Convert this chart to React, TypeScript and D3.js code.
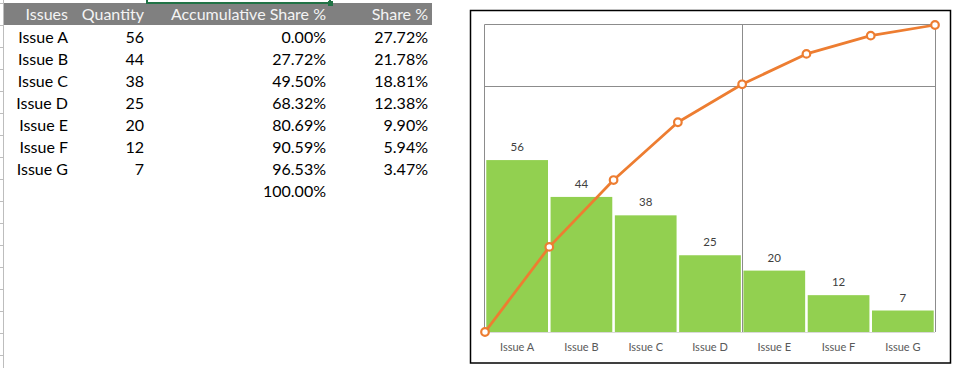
import React, { useEffect, useRef } from "react";
import * as d3 from "d3";

// table + chart data
const issues = ["Issue A", "Issue B", "Issue C", "Issue D", "Issue E", "Issue F", "Issue G"];
const quantities = [56, 44, 38, 25, 20, 12, 7];
const accumShare = [0, 0.2772, 0.495, 0.6832, 0.8069, 0.9059, 0.9653, 1.0];
const share = [0.2772, 0.2178, 0.1881, 0.1238, 0.099, 0.0594, 0.0347];
const headers = ["Issues", "Quantity", "Accumulative Share %", "Share %"];
const paretoCut = 0.8;
const cutIndex = 4;

const W = 963;
const H = 368;
const font = "Lato, 'Open Sans', sans-serif";

export default function App() {
  const ref = useRef<SVGSVGElement | null>(null);

  useEffect(() => {
    const svg = d3.select(ref.current);
    svg.selectAll("*").remove();
    svg.append("rect").attr("width", W).attr("height", H).attr("fill", "#fff");

    drawTable(svg);
    drawChart(svg);
  }, []);

  function drawTable(svg: any) {
    const pct = d3.format(".2%");
    const rows = d3
      .scaleBand<string>()
      .domain(["head", ...issues, "total"])
      .range([3, 3 + 22 * 9]);
    const colRight = [68, 144, 326, 428];

    // row header strip on the far left
    const strip = svg.append("g");
    strip
      .append("line")
      .attr("x1", 3.5)
      .attr("x2", 3.5)
      .attr("y1", 0)
      .attr("y2", H)
      .attr("stroke", "#bdbdbd");
    d3.range(0, 17).forEach((i) => {
      strip
        .append("line")
        .attr("x1", 0)
        .attr("x2", 3)
        .attr("y1", 3.5 + i * 22)
        .attr("y2", 3.5 + i * 22)
        .attr("stroke", "#bdbdbd");
    });

    // header band
    svg
      .append("rect")
      .attr("x", 4)
      .attr("y", rows("head"))
      .attr("width", 428)
      .attr("height", rows.bandwidth())
      .attr("fill", "#808080");

    // selected cell border
    const g = svg.append("g").attr("stroke", "#217346").attr("stroke-width", 2).attr("fill", "none");
    g.append("path").attr("d", "M147,0 V3 H330 V0");
    svg.append("rect").attr("x", 328).attr("y", 1).attr("width", 5).attr("height", 5).attr("fill", "#217346");

    headers.forEach((h, i) => {
      svg
        .append("text")
        .attr("x", colRight[i])
        .attr("y", (rows("head") as number) + 17)
        .attr("text-anchor", "end")
        .attr("fill", "#f4f4f4")
        .style("font-family", font)
        .style("font-size", "16px")
        .text(h);
    });

    issues.forEach((d, i) => {
      const y = (rows(d) as number) + 17.5;
      const cells = [d, String(quantities[i]), pct(accumShare[i]), pct(share[i])];
      cells.forEach((c, j) => {
        svg
          .append("text")
          .attr("x", colRight[j])
          .attr("y", y)
          .attr("text-anchor", "end")
          .attr("fill", "#000")
          .style("font-family", font)
          .style("font-size", "16px")
          .text(c);
      });
    });

    svg
      .append("text")
      .attr("x", colRight[2])
      .attr("y", (rows("total") as number) + 17.5)
      .attr("text-anchor", "end")
      .attr("fill", "#000")
      .style("font-family", font)
      .style("font-size", "16px")
      .text(pct(accumShare[accumShare.length - 1]));
  }

  function drawChart(svg: any) {
    const left = 485,
      right = 935,
      top = 25,
      bottom = 332;

    // chart frame
    svg
      .append("rect")
      .attr("x", 470.5)
      .attr("y", 10.5)
      .attr("width", 480)
      .attr("height", 352.5)
      .attr("fill", "#fff")
      .attr("stroke", "#000")
      .attr("stroke-width", 1.5);

    const x = d3.scaleBand<string>().domain(issues).range([left, right]).paddingInner(0.04).paddingOuter(0.02);
    const y = d3.scaleLinear().domain([0, 100]).range([bottom, top]);
    const x2 = d3
      .scalePoint<number>()
      .domain(d3.range(accumShare.length))
      .range([left, right]);
    const y2 = d3.scaleLinear().domain([0, 1]).range([bottom, top]);

    const grid = svg.append("g").attr("stroke", "#8c8c8c").attr("stroke-width", 1).attr("fill", "none");
    grid.append("path").attr("d", `M${left - 0.5},${bottom} V${top - 0.5} H${right + 0.5} V${bottom}`);
    grid
      .append("line")
      .attr("x1", left)
      .attr("x2", right)
      .attr("y1", Math.round(y2(paretoCut)) + 0.5)
      .attr("y2", Math.round(y2(paretoCut)) + 0.5);
    grid
      .append("line")
      .attr("x1", Math.round(x2(cutIndex) as number) + 0.5)
      .attr("x2", Math.round(x2(cutIndex) as number) + 0.5)
      .attr("y1", top)
      .attr("y2", bottom);

    svg
      .selectAll(".bar")
      .data(quantities)
      .join("rect")
      .attr("class", "bar")
      .attr("x", (d: number, i: number) => x(issues[i]))
      .attr("y", (d: number) => y(d))
      .attr("width", x.bandwidth())
      .attr("height", (d: number) => bottom - y(d))
      .attr("fill", "#92d050");

    // category axis
    svg
      .append("line")
      .attr("x1", left)
      .attr("x2", right)
      .attr("y1", bottom + 0.5)
      .attr("y2", bottom + 0.5)
      .attr("stroke", "#d9d9d9");

    svg
      .selectAll(".cat")
      .data(issues)
      .join("text")
      .attr("class", "cat")
      .attr("x", (d: string) => (x(d) as number) + x.bandwidth() / 2)
      .attr("y", bottom + 19)
      .attr("text-anchor", "middle")
      .attr("fill", "#595959")
      .style("font-family", font)
      .style("font-size", "11px")
      .text((d: string) => d);

    svg
      .selectAll(".lbl")
      .data(quantities)
      .join("text")
      .attr("class", "lbl")
      .attr("x", (d: number, i: number) => (x(issues[i]) as number) + x.bandwidth() / 2)
      .attr("y", (d: number) => y(d) - 9)
      .attr("text-anchor", "middle")
      .attr("fill", "#404040")
      .style("font-family", font)
      .style("font-size", "11.5px")
      .text((d: number) => d);

    const line = d3
      .line<number>()
      .x((d, i) => x2(i) as number)
      .y((d) => y2(d));

    svg
      .append("path")
      .datum(accumShare)
      .attr("d", line)
      .attr("fill", "none")
      .attr("stroke", "#ed7d31")
      .attr("stroke-width", 2.75)
      .attr("stroke-linejoin", "round");

    svg
      .selectAll(".dot")
      .data(accumShare)
      .join("circle")
      .attr("class", "dot")
      .attr("cx", (d: number, i: number) => x2(i))
      .attr("cy", (d: number) => y2(d))
      .attr("r", 3.8)
      .attr("fill", "#fff")
      .attr("stroke", "#ed7d31")
      .attr("stroke-width", 2.2);
  }

  return (
    <svg
      ref={ref}
      width={W}
      height={H}
      style={{ position: "absolute", left: 0, top: 0, display: "block" }}
    ></svg>
  );
}
